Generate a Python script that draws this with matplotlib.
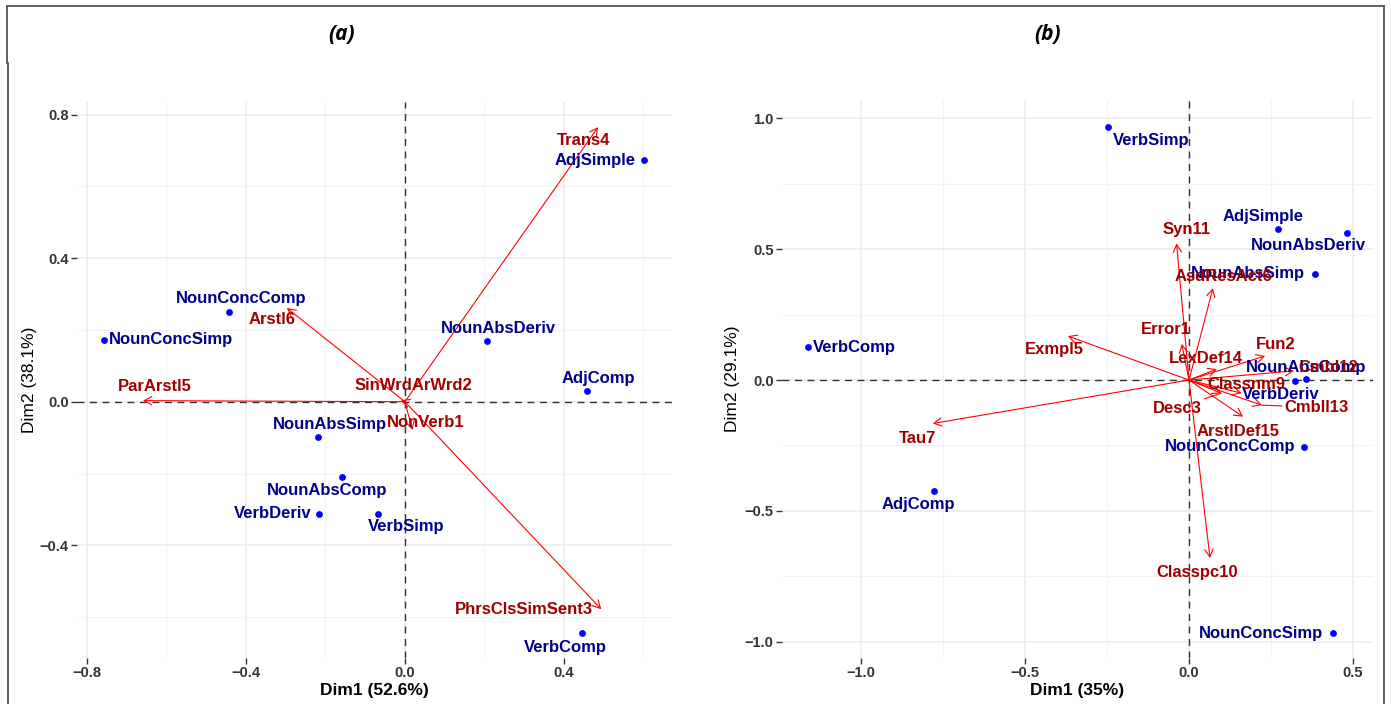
import matplotlib
matplotlib.use('Agg')
import matplotlib.pyplot as plt
from matplotlib.patches import FancyArrowPatch
from matplotlib.lines import Line2D

W, H = 1391, 704

# (a) individuals and variables
ind_a_names = ['AdjSimple', 'NounAbsDeriv', 'AdjComp', 'NounConcComp', 'NounConcSimp',
               'NounAbsSimp', 'NounAbsComp', 'VerbDeriv', 'VerbSimp', 'VerbComp']
ind_a_x = [0.601, 0.206, 0.458, -0.443, -0.757, -0.219, -0.159, -0.217, -0.068, 0.445]
ind_a_y = [0.673, 0.169, 0.030, 0.250, 0.172, -0.099, -0.210, -0.312, -0.312, -0.645]

var_a_names = ['NonVerb1', 'SinWrdArWrd2', 'PhrsClsSimSent3', 'Trans4', 'ParArstl5', 'Arstl6']
var_a_x = [0.019, -0.010, 0.494, 0.486, -0.659, -0.297]
var_a_y = [-0.079, 0.004, -0.578, 0.765, 0.003, 0.261]

# (b) individuals and variables
ind_b_names = ['VerbSimp', 'AdjSimple', 'NounAbsDeriv', 'NounAbsSimp', 'NounAbsComp',
               'VerbDeriv', 'NounConcComp', 'VerbComp', 'AdjComp', 'NounConcSimp']
ind_b_x = [-0.247, 0.271, 0.481, 0.384, 0.357, 0.323, 0.351, -1.163, -0.778, 0.439]
ind_b_y = [0.967, 0.578, 0.563, 0.406, 0.003, -0.002, -0.255, 0.125, -0.425, -0.968]

var_b_names = ['Error1', 'Fun2', 'Desc3', 'Exmpl5', 'AsdResAct6', 'Tau7', 'Classnm9',
               'Classpc10', 'Syn11', 'Cmbl12', 'Cmbll13', 'LexDef14', 'ArstlDef15']
var_b_x = [-0.022, 0.232, 0.098, -0.369, 0.073, -0.781, 0.160, 0.064, -0.038, 0.320, 0.222, 0.085, 0.165]
var_b_y = [0.138, 0.092, -0.050, 0.168, 0.351, -0.166, -0.050, -0.680, 0.522, 0.035, -0.096, 0.042, -0.140]

# label placement (pixel offsets from the mark, horizontal alignment)
ind_a_lab = [(-8, 0, 'right'), (12, 13, 'center'), (11, 12, 'center'), (12, 13, 'center'),
             (5, 0, 'left'), (12, 13, 'center'), (-15, -13, 'center'), (-7, 0, 'right'),
             (28, -13, 'center'), (-16, -14, 'center')]
var_a_lab = [(13, 8, 'center'), (12, 15, 'center'), (-8, 0, 'right'), (-15, -13, 'center'),
             (12, 14, 'center'), (-15, -11, 'center')]
ind_b_lab = [(43, -14, 'center'), (-15, 12, 'center'), (-38, -13, 'center'), (-10, 0, 'right'),
             (0, 12, 'center'), (-14, -14, 'center'), (-9, 0, 'right'), (5, 0, 'left'),
             (-15, -13, 'center'), (-10, 0, 'right')]
var_b_lab = [(-16, 14, 'center'), (11, 11, 'center'), (-44, -15, 'center'), (-14, -13, 'center'),
             (11, 12, 'center'), (-15, -15, 'center'), (5, 9, 'center'), (-13, -14, 'center'),
             (10, 14, 'center'), (34, 3, 'center'), (55, -2, 'center'), (-11, 11, 'center'),
             (-5, -15, 'center')]
var_b_leader = ['Desc3', 'Cmbll13']

plt.rcParams['font.family'] = ['Liberation Sans', 'DejaVu Sans']

fig = plt.figure(figsize=(W / 100, H / 100), dpi=100)


def axes_box(l, t, r, b):
    return [l / W, 1 - b / H, (r - l) / W, (b - t) / H]


def draw_biplot(ax, ind, var, ind_lab, var_lab, leaders, xlim, ylim,
                xticks, yticks, xminor, yminor, xlabel, ylabel, ylab_x):
    ax.set_xlim(*xlim)
    ax.set_ylim(*ylim)
    for s in ax.spines.values():
        s.set_visible(False)
    ax.set_xticks(xticks)
    ax.set_yticks(yticks)
    ax.set_xticks(xminor, minor=True)
    ax.set_yticks(yminor, minor=True)
    ax.set_xticklabels([f'{t:.1f}'.replace('-', '\u2212') for t in xticks])
    ax.set_yticklabels([f'{t:.1f}'.replace('-', '\u2212') for t in yticks])
    ax.grid(which='major', color='#EBEBEB', lw=1.1, zorder=0)
    ax.grid(which='minor', color='#F2F2F2', lw=0.8, zorder=0)
    ax.set_axisbelow(True)
    ax.tick_params(which='major', length=4, width=1, color='#333333', pad=2,
                   labelsize=10.5, labelcolor='#333333')
    ax.tick_params(which='minor', length=0)
    for t in ax.get_xticklabels() + ax.get_yticklabels():
        t.set_fontweight('bold')
    ax.set_xlabel(xlabel, fontsize=12.5, fontweight='bold', va='center')
    ax.xaxis.set_label_coords(0.5, -0.058)
    ax.set_ylabel(ylabel, fontsize=12.5, va='center')
    ax.yaxis.set_label_coords(ylab_x, 0.5)

    ax.axhline(0, color='#333333', lw=1.0, ls=(0, (5, 4)), zorder=1)
    ax.axvline(0, color='#333333', lw=1.0, ls=(0, (5, 4)), zorder=1)

    names, xs, ys = ind
    ax.scatter(xs, ys, s=24, color='#0000FF', zorder=3, linewidths=0)
    for n, x, y, (dx, dy, ha) in zip(names, xs, ys, ind_lab):
        ax.annotate(n, (x, y), xytext=(dx, dy), textcoords='offset pixels',
                    ha=ha, va='center', color='#00008B', fontsize=12,
                    fontweight='bold', zorder=5)

    names, xs, ys = var
    for n, x, y, (dx, dy, ha) in zip(names, xs, ys, var_lab):
        ax.add_patch(FancyArrowPatch((0, 0), (x, y),
                                     arrowstyle='->,head_length=0.55,head_width=0.3',
                                     mutation_scale=10, color='#FF0000', lw=0.8,
                                     shrinkA=0, shrinkB=0, zorder=2))
        props = None
        if n in leaders:
            props = dict(arrowstyle='-', color='#FF0000', lw=0.8, shrinkA=0, shrinkB=0)
        ax.annotate(n, (x, y), xytext=(dx, dy), textcoords='offset pixels',
                    ha=ha, va='center', color='#A00000', fontsize=12,
                    fontweight='bold', zorder=5, arrowprops=props)


ax_a = fig.add_axes(axes_box(77, 102, 672, 658))
draw_biplot(ax_a, (ind_a_names, ind_a_x, ind_a_y), (var_a_names, var_a_x, var_a_y),
            ind_a_lab, var_a_lab, [],
            (-0.825, 0.672), (-0.714, 0.835),
            [-0.8, -0.4, 0.0, 0.4], [-0.4, 0.0, 0.4, 0.8],
            [-0.6, -0.2, 0.2, 0.6], [-0.6, -0.2, 0.2, 0.6],
            'Dim1 (52.6%)', 'Dim2 (38.1%)', -0.08)

ax_b = fig.add_axes(axes_box(782, 100, 1373, 658))
draw_biplot(ax_b, (ind_b_names, ind_b_x, ind_b_y), (var_b_names, var_b_x, var_b_y),
            ind_b_lab, var_b_lab, var_b_leader,
            (-1.241, 0.561), (-1.062, 1.070),
            [-1.0, -0.5, 0.0, 0.5], [-1.0, -0.5, 0.0, 0.5, 1.0],
            [-0.75, -0.25, 0.25], [-0.75, -0.25, 0.25, 0.75],
            'Dim1 (35%)', 'Dim2 (29.1%)', -0.083)

# panel captions
for label, xc in [('(a)', 342), ('(b)', 1048)]:
    fig.text(xc / W, 1 - 35 / H, label, ha='center', va='center', fontsize=15,
             fontweight='bold', fontstyle='italic', family=['Open Sans', 'DejaVu Sans'])

# frame around the figure
frame = [((7, 1384), (6, 6)), ((7, 7), (6, 63)), ((8, 8), (63, 704)), ((1383.5, 1383.5), (6, 704))]
for xs, ys in frame:
    fig.add_artist(Line2D([x / W for x in xs], [1 - y / H for y in ys],
                          color='#555555', lw=1.3))

fig.savefig('out.png', dpi=100)
